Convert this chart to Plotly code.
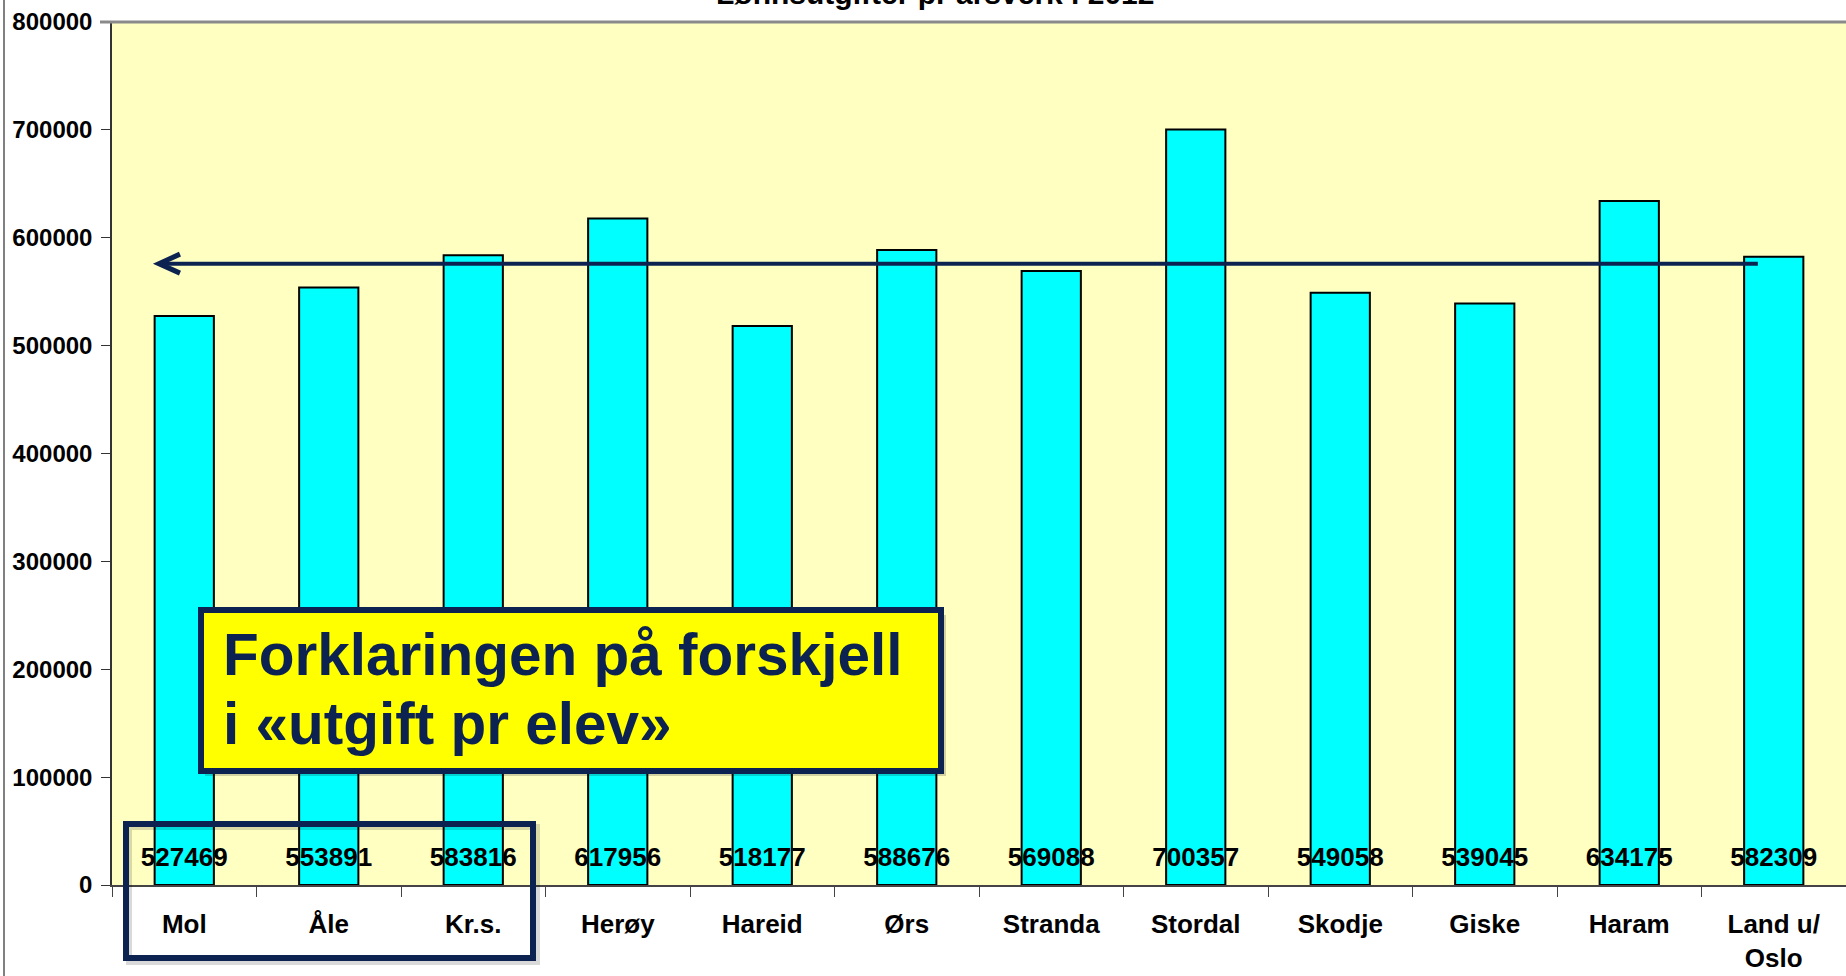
import plotly.graph_objects as go

# ---------------- data ----------------
categories = ["Mol", "Åle", "Kr.s.", "Herøy", "Hareid", "Ørs", "Stranda",
              "Stordal", "Skodje", "Giske", "Haram", "Land u/<br>Oslo"]
values = [527469, 553891, 583816, 617956, 518177, 588676, 569088,
          700357, 549058, 539045, 634175, 582309]
value_labels = [str(v) for v in values]
y_tick_values = [0, 100000, 200000, 300000, 400000, 500000, 600000, 700000, 800000]
y_tick_labels = [str(v) for v in y_tick_values]
average_level = 576000          # level of the horizontal arrow
label_level = 24000             # level at which value labels are written
title_text = "Lønnsutgifter pr årsverk i 2012"
callout_lines = ["Forklaringen på forskjell", "i «utgift pr elev»"]

# ---------------- geometry helpers ----------------
W, H = 1846, 976
L, R, T, B = 112, 0, 22, 91
PW, PH = W - L - R, H - T - B


def px(x):
    return (x - L) / PW


def py(y):
    return (H - B - y) / PH


BOLD = "Liberation Sans, Arial, sans-serif"
NAVY = "#0C2352"

fig = go.Figure()
fig.add_trace(go.Bar(
    x=categories, y=values,
    marker=dict(color="#00FFFF", line=dict(color="black", width=2)),
    hoverinfo="x+y", showlegend=False,
))
fig.add_trace(go.Scatter(
    x=categories, y=[label_level] * len(categories), mode="text",
    text=value_labels, textposition="middle center",
    textfont=dict(family=BOLD, size=26, color="black", weight=700),
    hoverinfo="skip", showlegend=False,
))

shapes = []
# outer left border of the chart
shapes.append(dict(type="line", xref="paper", yref="paper",
                   x0=px(4), x1=px(4), y0=py(976), y1=py(0),
                   line=dict(color="black", width=1), layer="above"))
# top border of plot area
shapes.append(dict(type="line", xref="paper", yref="paper",
                   x0=px(100), x1=1, y0=1, y1=1,
                   line=dict(color="#8a8a8a", width=3), layer="above"))
# callout box shadow + box
shapes.append(dict(type="rect", xref="paper", yref="paper",
                   x0=px(205), x1=px(946), y0=py(776), y1=py(615),
                   fillcolor="rgba(0,0,0,0.18)", line=dict(width=0), layer="above"))
shapes.append(dict(type="rect", xref="paper", yref="paper",
                   x0=px(201), x1=px(941), y0=py(771), y1=py(610),
                   fillcolor="#FFFF00", line=dict(color=NAVY, width=6), layer="above"))
# highlight box around first three categories
shapes.append(dict(type="rect", xref="paper", yref="paper",
                   x0=px(129), x1=px(537), y0=py(962), y1=py(827),
                   fillcolor="rgba(0,0,0,0)", line=dict(color="rgba(0,0,0,0.15)", width=6),
                   layer="above"))
shapes.append(dict(type="rect", xref="paper", yref="paper",
                   x0=px(126), x1=px(533), y0=py(958), y1=py(824),
                   fillcolor="rgba(0,0,0,0)", line=dict(color=NAVY, width=6), layer="above"))
# arrow line and chevron head (data coordinates)
x_tip = -0.175
x_tail = 10.89
dx = 21 / (PW / 12)
dy = 9.5 / PH * 800000
shapes.append(dict(type="line", xref="x", yref="y",
                   x0=x_tip + 0.01, x1=x_tail, y0=average_level, y1=average_level,
                   line=dict(color=NAVY, width=4), layer="above"))
shapes.append(dict(type="path", xref="x", yref="y",
                   path=f"M {x_tip + dx} {average_level + dy} L {x_tip} {average_level} "
                        f"L {x_tip + dx} {average_level - dy}",
                   line=dict(color=NAVY, width=5), layer="above"))

annotations = [
    dict(xref="paper", yref="paper", x=px(935), y=py(12), xanchor="center", yanchor="bottom",
         text=title_text, showarrow=False,
         font=dict(family=BOLD, size=30, color="black", weight=700)),
    dict(xref="paper", yref="paper", x=px(221), y=py(654), xanchor="left", yanchor="middle",
         text=callout_lines[0], showarrow=False,
         font=dict(family=BOLD, size=58.5, color=NAVY, weight=700)),
    dict(xref="paper", yref="paper", x=px(221), y=py(723), xanchor="left", yanchor="middle",
         text=callout_lines[1], showarrow=False,
         font=dict(family=BOLD, size=58.5, color=NAVY, weight=700)),
]

fig.update_layout(
    width=W, height=H,
    margin=dict(l=L, r=R, t=T, b=B, pad=0),
    paper_bgcolor="white", plot_bgcolor="#FFFFC2",
    bargap=0.59,
    shapes=shapes, annotations=annotations,
    showlegend=False,
)
fig.update_xaxes(
    type="category", range=[-0.5, 11.5],
    showline=True, linecolor="#444444", linewidth=2,
    ticks="outside", tickson="boundaries", ticklen=10, tickcolor="#444444", tickwidth=1,
    ticklabelstandoff=15,
    tickfont=dict(family=BOLD, size=26, color="black", weight=700),
    showgrid=False, zeroline=False,
)
fig.update_yaxes(
    range=[0, 800000], tickvals=y_tick_values, ticktext=y_tick_labels,
    showline=True, linecolor="#333333", linewidth=1.5,
    ticks="outside", ticklen=9, tickcolor="#333333", tickwidth=1,
    ticklabelstandoff=4,
    tickfont=dict(family=BOLD, size=24, color="black", weight=700),
    showgrid=False, zeroline=False,
)

fig.write_html("out.html", config={"displayModeBar": False},
               post_script="document.body.style.margin='0';document.body.style.overflow='hidden';")
